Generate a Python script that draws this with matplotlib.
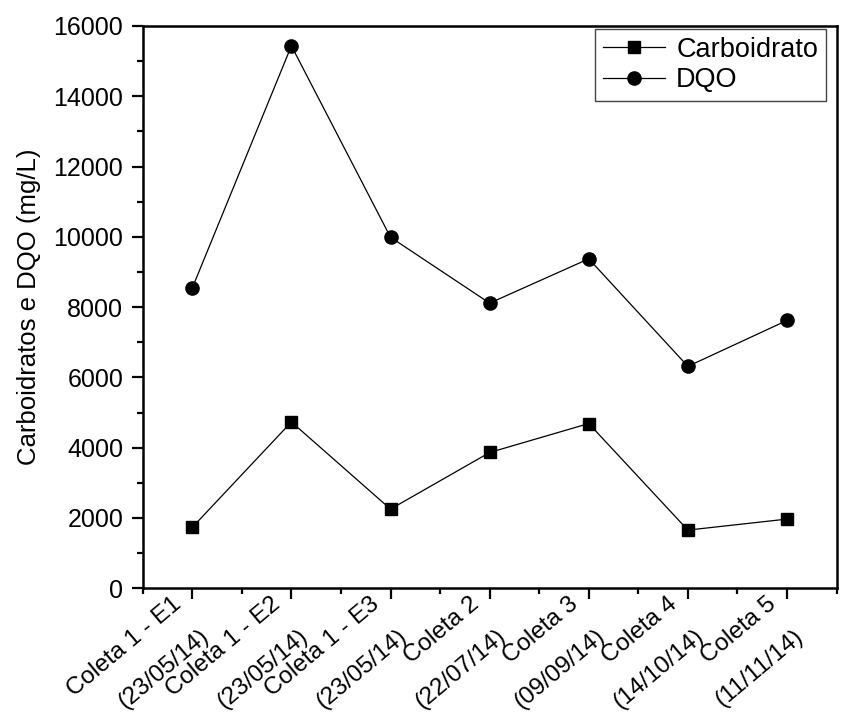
import matplotlib
matplotlib.use("Agg")
import matplotlib.pyplot as plt
from matplotlib.ticker import MultipleLocator

plt.rcParams['font.family'] = ['Liberation Sans', 'DejaVu Sans']

categories = ["Coleta 1 - E1\n(23/05/14)", "Coleta 1 - E2\n(23/05/14)", "Coleta 1 - E3\n(23/05/14)",
              "Coleta 2\n(22/07/14)", "Coleta 3\n(09/09/14)", "Coleta 4\n(14/10/14)", "Coleta 5\n(11/11/14)"]
carboidrato = [1733, 4733, 2253, 3864, 4688, 1656, 1969]
dqo = [8544, 15435, 9989, 8114, 9375, 6315, 7622]
y_ticks = [0, 2000, 4000, 6000, 8000, 10000, 12000, 14000, 16000]

fig = plt.figure(figsize=(8.66, 7.22), dpi=100)
ax = fig.add_axes([0.1648, 0.1852, 0.8012, 0.7788])

x = list(range(1, len(categories) + 1))
ax.plot(x, carboidrato, color='black', linewidth=0.9, marker='s', markersize=8, label='Carboidrato')
ax.plot(x, dqo, color='black', linewidth=0.9, marker='o', markersize=9.5, label='DQO')

ax.set_xlim(0.5, 7.5)
ax.set_ylim(0, 16000)
ax.set_yticks(y_ticks)
ax.yaxis.set_minor_locator(MultipleLocator(1000))
ax.set_xticks(x)
ax.xaxis.set_minor_locator(MultipleLocator(0.5))
ax.set_xticklabels(categories, rotation=40, ha='right', va='center', rotation_mode='anchor',
                   linespacing=2.2, fontsize=17.5)
for lab in ax.get_yticklabels():
    lab.set_fontsize(18)

for s in ax.spines.values():
    s.set_linewidth(1.8)
ax.tick_params(which='major', direction='out', length=8, width=1.6, pad=6)
ax.tick_params(which='minor', direction='out', length=4.3, width=1.6)
ax.tick_params(axis='x', which='major', pad=13)

ax.set_ylabel('Carboidratos e DQO (mg/L)', fontsize=18.5, labelpad=9)

leg = ax.legend(loc='upper right', bbox_to_anchor=(0.985, 0.995), fontsize=19.5, frameon=True,
                fancybox=False, framealpha=1, edgecolor='#444444', handlelength=2.3,
                handletextpad=0.4, labelspacing=0.15, borderpad=0.3, borderaxespad=0)
leg.get_frame().set_linewidth(1.0)

fig.savefig('out.png', dpi=100)
